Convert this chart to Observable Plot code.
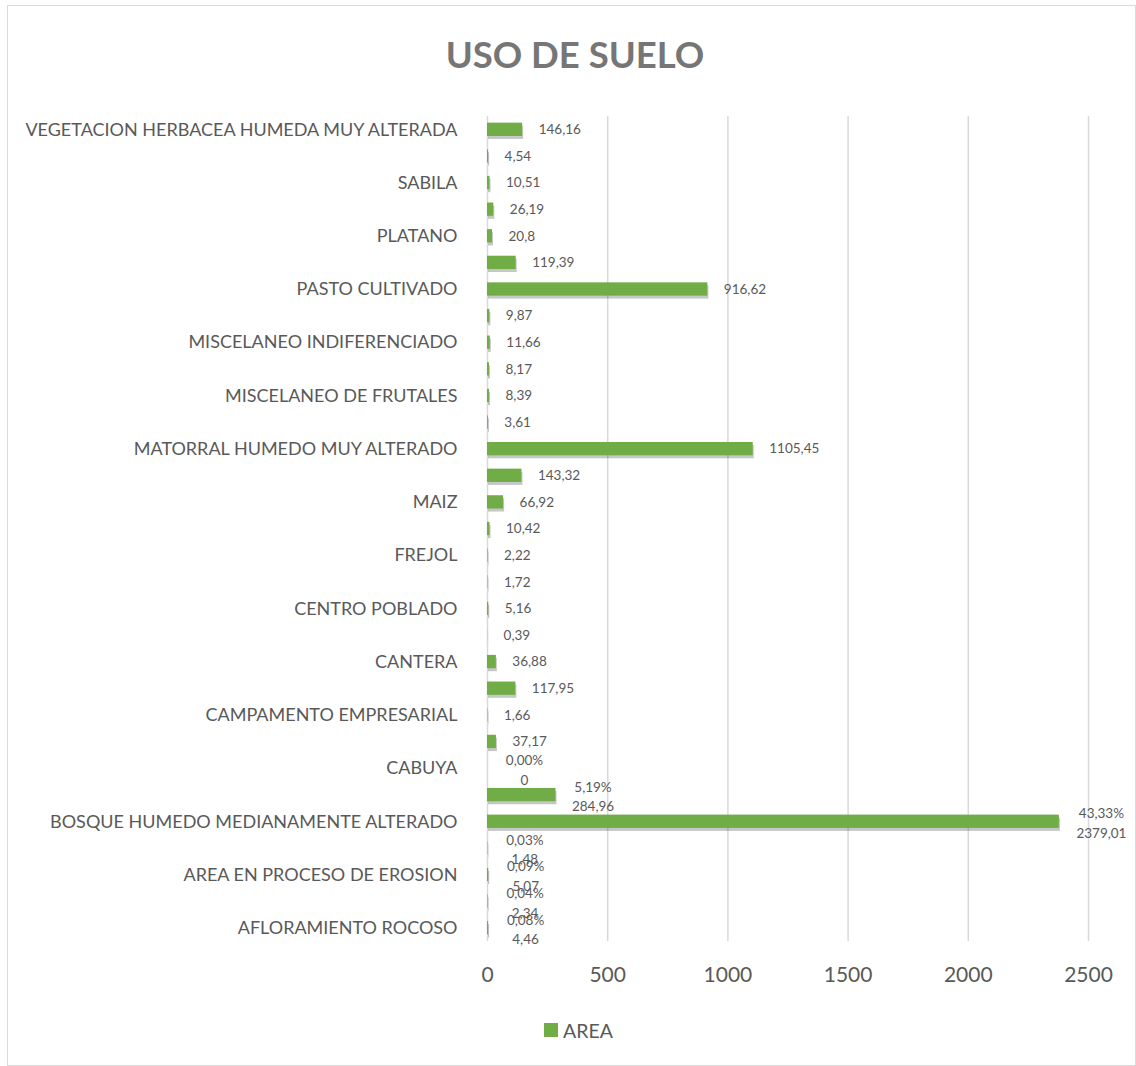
<!DOCTYPE html>
<html>
<head>
<meta charset="utf-8">
<script src="https://cdn.jsdelivr.net/npm/d3@7"></script>
<script src="https://cdn.jsdelivr.net/npm/@observablehq/plot@0.6"></script>
<style>
  html, body { margin: 0; padding: 0; background: #fff; }
  body { width: 1136px; height: 1066px; position: relative; font-family: Lato, "Open Sans", sans-serif; overflow: hidden; }
  #frame { position: absolute; left: 7px; top: 5px; width: 1129px; height: 1061px; border: 1px solid #d9d9d9; box-sizing: border-box; }
  #title { position: absolute; left: 0; top: 34px; width: 1150px; text-align: center; font-weight: bold; font-size: 36.5px; line-height: 40px; color: #767676; }
  #chart { position: absolute; left: 0; top: 100px; }
  #legend { position: absolute; left: 544px; top: 1018px; height: 24px; display: flex; align-items: center; font-size: 19.5px; color: #595959; }
  #legend .sw { width: 14px; height: 14px; background: #70ad47; margin-right: 5px; }
</style>
</head>
<body>
<div id="frame"></div>
<div id="title">USO DE SUELO</div>
<div id="chart"></div>
<div id="legend"><span class="sw"></span><span>AREA</span></div>
<script>
// Categories from bottom (first) to top (last); every other one is unlabeled in the original
const categories = [
  "AFLORAMIENTO ROCOSO", "(sin etiqueta 1)",
  "AREA EN PROCESO DE EROSION", "(sin etiqueta 2)",
  "BOSQUE HUMEDO MEDIANAMENTE ALTERADO", "(sin etiqueta 3)",
  "CABUYA", "(sin etiqueta 4)",
  "CAMPAMENTO EMPRESARIAL", "(sin etiqueta 5)",
  "CANTERA", "(sin etiqueta 6)",
  "CENTRO POBLADO", "(sin etiqueta 7)",
  "FREJOL", "(sin etiqueta 8)",
  "MAIZ", "(sin etiqueta 9)",
  "MATORRAL HUMEDO MUY ALTERADO", "(sin etiqueta 10)",
  "MISCELANEO DE FRUTALES", "(sin etiqueta 11)",
  "MISCELANEO INDIFERENCIADO", "(sin etiqueta 12)",
  "PASTO CULTIVADO", "(sin etiqueta 13)",
  "PLATANO", "(sin etiqueta 14)",
  "SABILA", "(sin etiqueta 15)",
  "VEGETACION HERBACEA HUMEDA MUY ALTERADA"
];
const areas = [
  4.46, 2.34, 5.07, 1.48, 2379.01, 284.96, 0, 37.17, 1.66, 117.95,
  36.88, 0.39, 5.16, 1.72, 2.22, 10.42, 66.92, 143.32, 1105.45, 3.61,
  8.39, 8.17, 11.66, 9.87, 916.62, 119.39, 20.8, 26.19, 10.51, 4.54,
  146.16
];
// Percentage labels shown on the first (bottom) seven bars
const percents = ["0,08%", "0,04%", "0,09%", "0,03%", "43,33%", "5,19%", "0,00%"];
// Category tick labels that are displayed
const tickLabels = [
  "AFLORAMIENTO ROCOSO", "AREA EN PROCESO DE EROSION", "BOSQUE HUMEDO MEDIANAMENTE ALTERADO",
  "CABUYA", "CAMPAMENTO EMPRESARIAL", "CANTERA", "CENTRO POBLADO", "FREJOL", "MAIZ",
  "MATORRAL HUMEDO MUY ALTERADO", "MISCELANEO DE FRUTALES", "MISCELANEO INDIFERENCIADO",
  "PASTO CULTIVADO", "PLATANO", "SABILA", "VEGETACION HERBACEA HUMEDA MUY ALTERADA"
];
const xTicks = [0, 500, 1000, 1500, 2000, 2500];

const data = categories.map((c, i) => ({cat: c, area: areas[i], pct: i < percents.length ? percents[i] : null}));
const fmt = v => String(v).replace(".", ",");

const chart = Plot.plot({
  width: 1136,
  height: 900,
  marginLeft: 487,
  marginRight: 48,
  marginTop: 16,
  marginBottom: 59,
  style: {fontFamily: "Lato, 'Open Sans', sans-serif", color: "#595959", background: "transparent"},
  x: {domain: [0, 2500]},
  y: {domain: categories.slice().reverse(), paddingInner: 0.5, paddingOuter: 0.25, round: false},
  marks: [
    Plot.gridX(xTicks, {stroke: "#d9d9d9", strokeOpacity: 1, strokeWidth: 1.5}),
    Plot.axisX(xTicks, {anchor: "bottom", tickSize: 0, tickPadding: 26, fontSize: 21, label: null, fill: "#595959", tickFormat: d => String(d)}),
    Plot.axisY(tickLabels, {anchor: "left", tickSize: 0, tickPadding: 30, fontSize: 18, label: null, fill: "#595959"}),
    Plot.barX(data, {x: "area", y: "cat", fill: "#000", fillOpacity: 0.22, dx: 1, dy: 3}),
    Plot.barX(data, {x: "area", y: "cat", fill: "#70ad47"}),
    Plot.text(data.filter(d => !d.pct), {x: "area", y: "cat", text: d => fmt(d.area), textAnchor: "start", dx: 16, fontSize: 13.5, fill: "#595959"}),
    Plot.text(data.filter(d => d.pct && d.area < 1000), {x: "area", y: "cat", text: d => d.pct + "\n" + fmt(d.area), textAnchor: "middle", dx: 37, lineHeight: 1.45, fontSize: 13.5, fill: "#595959"}),
    Plot.text(data.filter(d => d.pct && d.area >= 1000), {x: "area", y: "cat", text: d => d.pct + "\n" + fmt(d.area), textAnchor: "middle", dx: 42, lineHeight: 1.45, fontSize: 13.5, fill: "#595959"})
  ]
});
document.getElementById("chart").appendChild(chart);
</script>
</body>
</html>
